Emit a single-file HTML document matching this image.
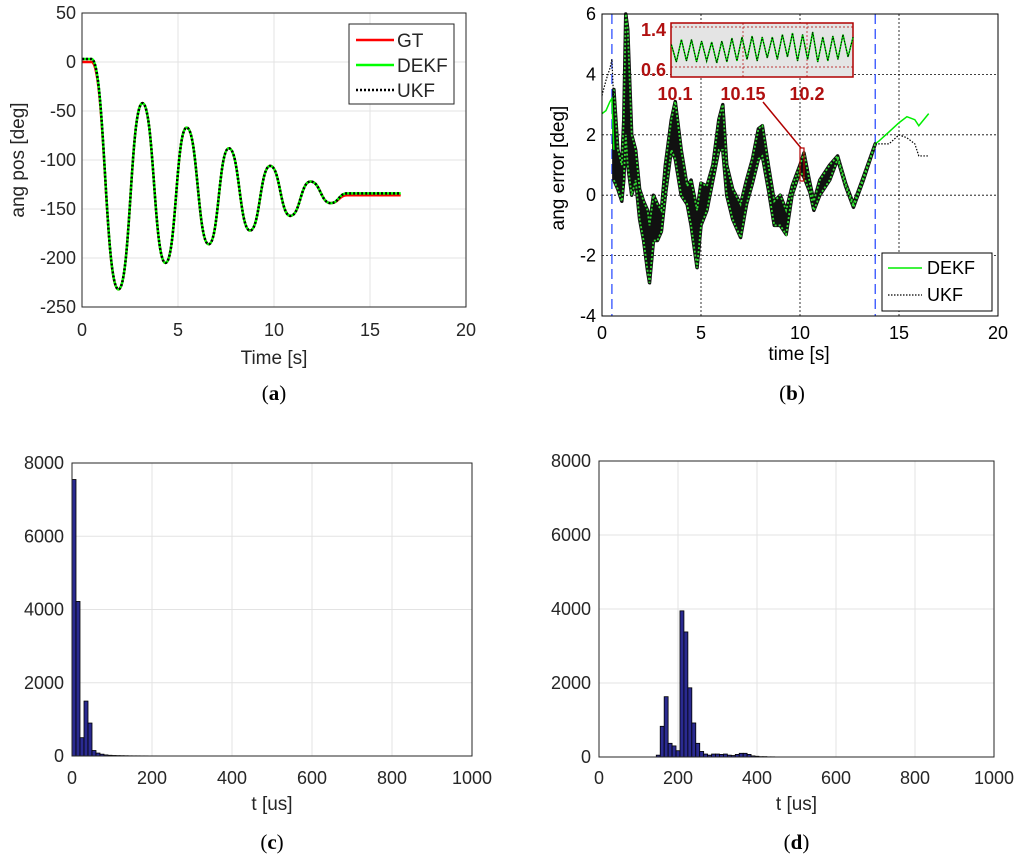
<!DOCTYPE html>
<html><head><meta charset="utf-8"><style>
body{margin:0;background:#fff}
svg{display:block;font-family:"Liberation Sans",sans-serif}
.cap{font-family:"Liberation Serif",serif;font-size:21px}
</style></head><body>
<svg id="fig" width="1024" height="860" viewBox="0 0 1024 860"></svg>
<script>
// ---- data panel (a) ----
const aT=[0,0.5,1.9,3.15,4.35,5.45,6.6,7.65,8.75,9.8,10.85,11.9,12.95,13.8,16.6];
const aGT=[0,0,-232,-42,-205,-67,-186,-88,-172,-106,-157,-122,-144,-136,-136];
const aEst=[3,3,-232,-42,-205,-67,-186,-88,-172,-106,-157,-122,-144,-134,-134];
const aYTicks=[50,0,-50,-100,-150,-200,-250];
const aXTicks=[0,5,10,15,20];
// ---- data panel (b) ----
const bT=[0.6,0.8,1.0,1.1,1.2,1.3,1.5,1.7,1.9,2.1,2.3,2.4,2.6,2.8,3.0,3.2,3.5,3.7,4.0,4.3,4.5,4.8,5.0,5.3,5.6,5.9,6.1,6.3,6.6,7.0,7.3,7.6,7.9,8.1,8.4,8.7,9.0,9.3,9.6,10.0,10.2,10.5,10.7,11.0,11.5,11.9,12.3,12.7,13.2,13.8];
const bLo=[0.5,0.2,-0.2,0.5,2,1,0,0.5,-0.8,-1.5,-2.5,-2.9,-1.5,-1.5,-1.2,0,1.5,1.2,0,-0.3,-1,-2.4,-1,-0.5,0.5,1.5,1.5,0,-0.8,-1.4,-0.3,0.4,1.2,1.3,0.2,-1,-1,-1.3,0,0.8,0.6,0.1,-0.5,0,0.5,1.2,0.3,-0.4,0.5,1.7];
const bHi=[3.5,1.5,1.0,2.5,6,5.5,2,1.5,0.2,-0.2,-0.5,-1,0,-0.3,-0.5,1,2.5,3.1,1.5,0.3,0.5,-0.5,0.4,0.3,1,2.5,3,1,0.2,-0.3,0.5,1.2,2.2,2.3,1,-0.2,0,-0.5,0.3,1.0,1.4,0.4,-0.2,0.5,1,1.3,0.4,-0.3,0.6,1.7];
const bStartT=[0,0.2,0.4,0.5,0.6];
const bStartDEKF=[2.7,2.8,3.1,3.2,1.5];
const bStartUKF=[3.3,3.8,4.2,4.5,3.0];
const bTailT=[13.8,14.0,14.5,15.0,15.4,15.8,16.0,16.5];
const bTailDEKF=[1.7,1.8,2.1,2.4,2.6,2.5,2.3,2.7];
const bTailUKF=[1.7,1.7,1.7,2.0,1.9,1.7,1.3,1.3];
const bYTicks=[6,4,2,0,-2,-4];
const bXTicks=[0,5,10,15,20];
const insetVals=[1.05,0.7,1.15,0.72,1.15,0.7,1.12,0.72,1.1,0.68,1.12,0.7,1.18,0.72,1.2,0.75,1.22,0.72,1.2,0.78,1.2,0.75,1.25,0.8,1.28,0.72,1.25,0.75,1.3,0.7,1.2,0.72,1.22,0.75,1.25,0.8,1.2];
// ---- data panels (c),(d) ----
const cStart=0, binW=10;
const cCounts=[7550,4220,500,1500,900,150,80,50,30,20,15,12,10,8,6,5,5,4,4,3,3,3,2,2,2,2,2,2,1,1,1,1,1,1,1,1,1,1,1,1];
const dStart=145;
const dCounts=[50,830,1630,370,300,170,3950,3380,1870,920,370,150,80,50,80,80,70,80,50,40,70,100,100,70,30,20,10,10,5,5];
const hYTicks=[0,2000,4000,6000,8000];
const hXTicks=[0,200,400,600,800,1000];

const NS='http://www.w3.org/2000/svg';
const svg=document.getElementById('fig');
function mk(tag,at,p){const e=document.createElementNS(NS,tag);for(const k in at)e.setAttribute(k,at[k]);(p||svg).appendChild(e);return e;}
function txt(s,x,y,at,p){const e=mk('text',Object.assign({x:x,y:y},at),p);e.textContent=s;return e;}
const TF=18, AF=19;

// ===== Panel A =====
const ax=v=>82+(v/20)*384, ay=v=>13+(50-v)/300*294;
const gA=mk('g',{});


aYTicks.forEach(v=>{const l=mk('line',{x1:82,x2:466,y1:ay(v),y2:ay(v),stroke:'#e3e3e3','stroke-width':1},gA);


const t=txt(v,76,ay(v)+6,{'text-anchor':'end','font-size':TF,fill:'#262626'},gA);

});
aXTicks.forEach(v=>{const l=mk('line',{x1:ax(v),x2:ax(v),y1:13,y2:307,stroke:'#e3e3e3','stroke-width':1},gA);


const t=txt(v,ax(v),336,{'text-anchor':'middle','font-size':TF,fill:'#262626'},gA);

});
function smooth(T,V,fx,fy){let d='M'+fx(T[0])+','+fy(V[0]);for(let i=1;i<T.length;i++){const x0=fx(T[i-1]),x1=fx(T[i]),m=(x0+x1)/2;d+=' C'+m+','+fy(V[i-1])+' '+m+','+fy(V[i])+' '+x1+','+fy(V[i]);}return d;}
const gt=mk('path',{d:smooth(aT,aGT,ax,ay),fill:'none',stroke:'#ff0000','stroke-width':2.5},gA);


const de=mk('path',{d:smooth(aT,aEst,ax,ay),fill:'none',stroke:'#00ff00','stroke-width':2.5},gA);


const uk=mk('path',{d:smooth(aT,aEst,ax,ay),fill:'none',stroke:'#000','stroke-width':2.5,'stroke-dasharray':'2,2'},gA);


const boxA=mk('rect',{x:82,y:13,width:384,height:294,fill:'none',stroke:'#262626','stroke-width':1},gA);


const legA=mk('g',{},gA);


mk('rect',{x:349,y:24,width:105,height:80,fill:'#fff',stroke:'#262626'},legA);
[['GT','#ff0000',''],['DEKF','#00ff00',''],['UKF','#000','2,2']].forEach((r,i)=>{const y=40+i*25;
const g=mk('g',{},legA);


mk('line',{x1:356,x2:394,y1:y,y2:y,stroke:r[1],'stroke-width':2.5,'stroke-dasharray':r[2]||'none'},g);
txt(r[0],397,y+7,{'font-size':19,fill:'#262626'},g);});
const ayl=txt('ang pos [deg]',24,160,{'text-anchor':'middle','font-size':AF,fill:'#262626',transform:'rotate(-90 24 160)'},gA);


const axl=txt('Time [s]',274,364,{'text-anchor':'middle','font-size':AF,fill:'#262626'},gA);


const capA=mk('text',{x:274,y:400,'text-anchor':'middle',class:'cap'},gA);
capA.innerHTML='(<tspan font-weight="bold">a</tspan>)';



// ===== Panel B =====
const bx=v=>602+(v/20)*396, by=v=>14+(6-v)/10*302;
const gB=mk('g',{});


bYTicks.forEach(v=>{const l=mk('line',{x1:602,x2:998,y1:by(v),y2:by(v),stroke:'#000','stroke-width':0.8,'stroke-dasharray':'2,2'},gB);


const t=txt(v,596,by(v)+6,{'text-anchor':'end','font-size':TF,fill:'#000'},gB);

});
bXTicks.forEach(v=>{const l=mk('line',{x1:bx(v),x2:bx(v),y1:14,y2:316,stroke:'#000','stroke-width':0.8,'stroke-dasharray':'2,2'},gB);


const t=txt(v,bx(v),339,{'text-anchor':'middle','font-size':TF,fill:'#000'},gB);

});
[0.5,13.8].forEach(v=>{const l=mk('line',{x1:bx(v),x2:bx(v),y1:14,y2:316,stroke:'#3050ff','stroke-width':1.3,'stroke-dasharray':'10,5'},gB);

});
let band='M'+bT.map((t,i)=>bx(t)+','+by(bHi[i])).join(' L')+' L'+bT.map((t,i)=>bx(t)+','+by(bLo[i])).reverse().join(' L')+'Z';
const bd=mk('path',{d:band,fill:'#111',stroke:'#111','stroke-width':3.5,'stroke-linejoin':'round'},gB);


const pl=(T,V)=>T.map((t,i)=>bx(t)+','+by(V[i])).join(' ');
[bHi,bLo].forEach(V=>{const p=mk('polyline',{points:pl(bT,V),fill:'none',stroke:'#33dd33','stroke-width':1.8,'stroke-dasharray':'2,2'},gB);

});
const s1=mk('polyline',{points:pl(bStartT,bStartDEKF),fill:'none',stroke:'#00ee00','stroke-width':1.5},gB);


const s2=mk('polyline',{points:pl(bStartT,bStartUKF),fill:'none',stroke:'#000','stroke-width':1.2,'stroke-dasharray':'1.5,1.5'},gB);


const t1=mk('polyline',{points:pl(bTailT,bTailDEKF),fill:'none',stroke:'#00ee00','stroke-width':1.5},gB);


const t2=mk('polyline',{points:pl(bTailT,bTailUKF),fill:'none',stroke:'#000','stroke-width':1.2,'stroke-dasharray':'1.5,1.5'},gB);


const boxB=mk('rect',{x:602,y:14,width:396,height:302,fill:'none',stroke:'#000','stroke-width':1},gB);


// inset
const gI=mk('g',{},gB);


const ix=v=>679+(v-10.1)/0.05*64, iy=v=>27+(1.4-v)/0.8*40;
mk('rect',{x:671,y:23,width:182,height:54,fill:'#e4e4e4',stroke:'#b00000','stroke-width':1.5},gI);
[1.4,0.6].forEach(v=>mk('line',{x1:671,x2:853,y1:iy(v),y2:iy(v),stroke:'#b00000','stroke-width':0.7,'stroke-dasharray':'2,2'},gI));
[10.15,10.2].forEach(v=>mk('line',{x1:ix(v),x2:ix(v),y1:23,y2:77,stroke:'#b00000','stroke-width':0.7,'stroke-dasharray':'2,2'},gI));
const insT=insetVals.map((v,i)=>10.094+i*0.142/(insetVals.length-1));
const ip=insT.map((t,i)=>ix(t)+','+iy(insetVals[i])).join(' ');
const il=mk('polyline',{points:ip,fill:'none',stroke:'#00dd00','stroke-width':1.5},gI);


const il2=mk('polyline',{points:ip,fill:'none',stroke:'#000','stroke-width':1,'stroke-dasharray':'1.5,1.5'},gI);


[['1.4',28+8],['0.6',68+8]].forEach(r=>{const t=txt(r[0],666,r[1],{'text-anchor':'end','font-size':18,'font-weight':'bold',fill:'#b01010'},gI);

});
[['10.1',ix(10.1)-4],['10.15',ix(10.15)],['10.2',ix(10.2)]].forEach(r=>{const t=txt(r[0],r[1],100,{'text-anchor':'middle','font-size':18,'font-weight':'bold',fill:'#b01010'},gI);

});
mk('line',{x1:763,y1:102,x2:801,y2:148,stroke:'#b00000','stroke-width':1.5},gI);
mk('rect',{x:800,y:148,width:4,height:33,fill:'none',stroke:'#b00000','stroke-width':1.2},gI);
const legB=mk('g',{},gB);


mk('rect',{x:882,y:253,width:110,height:58,fill:'#fff',stroke:'#000'},legB);
mk('line',{x1:888,x2:922,y1:268,y2:268,stroke:'#00ee00','stroke-width':1.5},legB);
txt('DEKF',927,274,{'font-size':18,fill:'#000'},legB);
mk('line',{x1:888,x2:922,y1:295,y2:295,stroke:'#000','stroke-width':1.2,'stroke-dasharray':'1.5,1.5'},legB);
txt('UKF',927,301,{'font-size':18,fill:'#000'},legB);
const byl=txt('ang error [deg]',564,168,{'text-anchor':'middle','font-size':AF,fill:'#000',transform:'rotate(-90 564 168)'},gB);


const bxl=txt('time [s]',799,360,{'text-anchor':'middle','font-size':AF,fill:'#000'},gB);


const capB=mk('text',{x:792,y:400,'text-anchor':'middle',class:'cap'},gB);
capB.innerHTML='(<tspan font-weight="bold">b</tspan>)';



// ===== Histograms =====
function hist(L,R,T,B,counts,start,name,cap){
  const hx=v=>L+v/1000*(R-L), hy=v=>B-v/8000*(B-T);
  const g=mk('g',{});
  
  
  hYTicks.forEach(v=>{const l=mk('line',{x1:L,x2:R,y1:hy(v),y2:hy(v),stroke:'#e3e3e3'},g);
  
  
  const t=txt(v,L-8,hy(v)+6,{'text-anchor':'end','font-size':TF,fill:'#262626'},g);
  
  });
  hXTicks.forEach(v=>{const l=mk('line',{x1:hx(v),x2:hx(v),y1:T,y2:B,stroke:'#e3e3e3'},g);
  
  
  const t=txt(v,hx(v),784,{'text-anchor':'middle','font-size':TF,fill:'#262626'},g);
  
  });
  counts.forEach((c,i)=>{const x0=hx(start+i*binW),x1=hx(start+(i+1)*binW);
  const r=mk('rect',{x:x0,y:hy(c),width:x1-x0,height:B-hy(c),fill:'#2a2a90',stroke:'#000','stroke-width':0.8},g);
  
  });
  const bx_=mk('rect',{x:L,y:T,width:R-L,height:B-T,fill:'none',stroke:'#262626'},g);
  
  
  const xl=txt('t [us]',(L+R)/2,810,{'text-anchor':'middle','font-size':AF,fill:'#262626'},g);
  
  
  const c=mk('text',{x:(L+R)/2,y:849,'text-anchor':'middle',class:'cap'},g);
  c.innerHTML='(<tspan font-weight="bold">'+cap+'</tspan>)';
  
  
}
hist(72,472,463,756,cCounts,cStart,'c','c');
hist(599,994,461,757,dCounts,dStart,'d','d');
</script>
</body></html>
